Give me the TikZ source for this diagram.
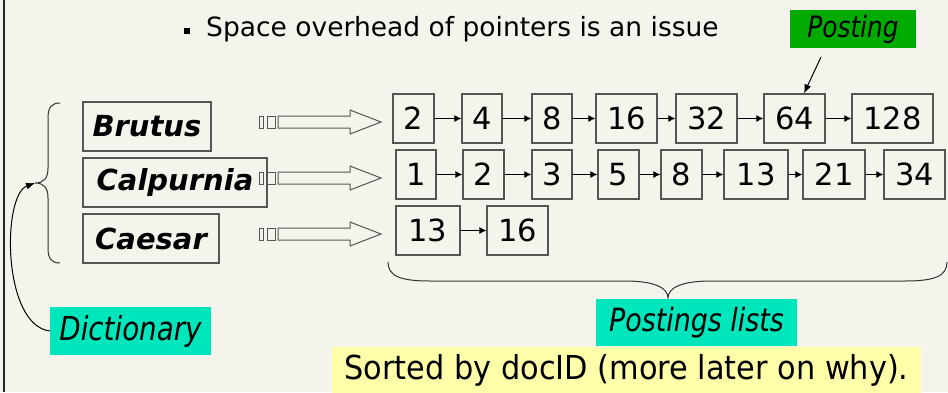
\documentclass[tikz,border=0pt]{standalone}
\usepackage{fontspec}
\setmainfont{DejaVu Sans}
\newfontfamily\narrowsans[FakeStretch=0.84]{DejaVu Sans}
\newfontfamily\midsans[FakeStretch=0.92]{DejaVu Sans}
\usetikzlibrary{arrows.meta}
\definecolor{bg}{HTML}{F4F3EC}
\definecolor{boxgray}{HTML}{555555}
\definecolor{postgreen}{HTML}{00AA00}
\definecolor{labcyan}{HTML}{00E6BC}
\definecolor{noteyellow}{HTML}{FFFFAA}
\begin{document}
\begin{tikzpicture}[x=1pt,y=-1pt,
  numbox/.style={draw=boxgray, line width=1.2pt, fill=bg, minimum height=49pt, inner sep=0pt,
    font=\fontsize{30.5}{30.5}\selectfont},
  termbox/.style={draw=boxgray, line width=1.2pt, fill=bg, minimum height=49pt, inner sep=0pt,
    font=\fontsize{29}{29}\selectfont\bfseries\itshape},
  linkarrow/.style={-{Latex[length=7pt,width=7pt]}, line width=1pt, black},
  hollowarrow/.style={draw=boxgray, line width=1pt, fill=bg},
  bracestyle/.style={draw=black!80, line width=1pt},
  labelbox/.style={inner sep=0pt, font=\fontsize{33}{33}\selectfont\narrowsans\itshape}
]
\fill[bg] (0,0) rectangle (948,392);
\useasboundingbox (0,0) rectangle (948,392);
\draw[black!85, line width=2pt] (4,0) -- (4,392);

% bullet text
\fill (184,28) rectangle (190,34);
\node[anchor=base west, inner sep=0pt, font=\fontsize{26.5}{26.5}\selectfont] (bullet) at (206,36) {Space overhead of pointers is an issue};

% Posting label
\node[labelbox, fill=postgreen, minimum width=126pt, minimum height=38pt, font=\fontsize{29.5}{29.5}\selectfont\narrowsans\itshape] (posting) at (853,29) {Posting};

% dictionary terms
\node[termbox, minimum width=128pt] (brutus) at (147,126.5) {Brutus};
\node[termbox, minimum width=184pt] (calp) at (175,182.5) {Calpurnia};
\node[termbox, minimum width=136pt] (caesar) at (151,238.5) {Caesar};

% hollow pointer arrows
\foreach \cy in {122,178,234}{
  \draw[hollowarrow] (259,\cy-6) rectangle (263,\cy+6);
  \draw[hollowarrow] (267,\cy-6) rectangle (275,\cy+6);
  \draw[hollowarrow] (278,\cy-6) -- (350,\cy-6) -- (350,\cy-12) -- (381,\cy) -- (350,\cy+12) -- (350,\cy+6) -- (278,\cy+6) -- cycle;
}

% row 1
\node[numbox, minimum width=41pt] (a1) at (413.5,118.5) {2};
\node[numbox, minimum width=40pt] (a2) at (482,118.5) {4};
\node[numbox, minimum width=40pt] (a3) at (552,118.5) {8};
\node[numbox, minimum width=61pt] (a4) at (626.5,118.5) {16};
\node[numbox, minimum width=61pt] (a5) at (706.5,118.5) {32};
\node[numbox, minimum width=61pt] (a6) at (794.5,118.5) {64};
\node[numbox, minimum width=81pt] (a7) at (892.5,118.5) {128};
% row 2
\node[numbox, minimum width=40pt] (b1) at (416,174.5) {1};
\node[numbox, minimum width=41pt] (b2) at (483.5,174.5) {2};
\node[numbox, minimum width=40pt] (b3) at (552,174.5) {3};
\node[numbox, minimum width=41pt] (b4) at (618.5,174.5) {5};
\node[numbox, minimum width=41pt] (b5) at (681.5,174.5) {8};
\node[numbox, minimum width=64pt] (b6) at (756,174.5) {13};
\node[numbox, minimum width=62pt] (b7) at (834,174.5) {21};
\node[numbox, minimum width=61pt] (b8) at (914.5,174.5) {34};
% row 3
\node[numbox, minimum width=64pt] (c1) at (428,230.5) {13};
\node[numbox, minimum width=61pt] (c2) at (517.5,230.5) {16};

\foreach \u/\v in {a1/a2,a2/a3,a3/a4,a4/a5,a5/a6,a6/a7,b1/b2,b2/b3,b3/b4,b4/b5,b5/b6,b6/b7,b7/b8,c1/c2}
  \draw[linkarrow] (\u.east) -- (\v.west);

% posting pointer
\coordinate (ptail) at (821,57);
\draw[-{Latex[length=9pt,width=7pt]}, line width=1pt] (ptail) -- ([xshift=9.5pt]a6.north);

% left brace
\coordinate (ltip) at (35,183);
\draw[bracestyle] (60,103) .. controls (51,103) and (48,108) .. (48,118) -- (48,168)
  .. controls (48,178) and (44,183) .. (ltip) .. controls (44,183) and (48,188) .. (48,198)
  -- (48,248) .. controls (48,258) and (51,263) .. (60,263);

% bottom brace
\coordinate (btip) at (668,298);
\draw[bracestyle] (388,262) .. controls (388,276) and (400,281) .. (430,281) -- (625,281)
  .. controls (655,281) and (668,288) .. (btip) .. controls (668,288) and (681,281) .. (711,281)
  -- (905,281) .. controls (935,281) and (947,276) .. (947,262);

% labels
\node[labelbox, fill=labcyan, minimum width=161pt, minimum height=48pt] (dict) at (130.5,331) {Dictionary};
\node[labelbox, fill=labcyan, minimum width=201pt, minimum height=47pt, font=\fontsize{32}{32}\selectfont\narrowsans\itshape] (plists) at (696.5,322.5) {Postings lists};
\node[fill=noteyellow, inner sep=0pt, minimum width=589pt, minimum height=46pt, font=\fontsize{33}{33}\selectfont\midsans] (sorted) at (626.5,370) {Sorted by docID (more later on why).};

\draw[-{Latex[length=9pt,width=7pt]}, line width=1pt] (dict.west) .. controls (2,325) and (2,195) .. (ltip);
\end{tikzpicture}
\end{document}
